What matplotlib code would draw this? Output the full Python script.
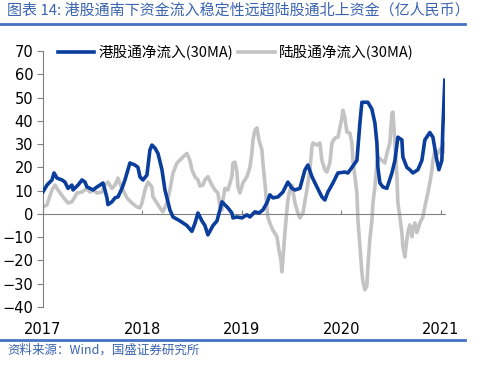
import matplotlib
matplotlib.use("Agg")
import matplotlib.pyplot as plt

plt.rcParams['font.family'] = ['DejaVu Sans', 'Noto Sans CJK SC']

# 港股通净流入(30MA) - decimal years / values
hk_t = [2017.000, 2017.040, 2017.090, 2017.111, 2017.141, 2017.191, 2017.221, 2017.251, 2017.291, 2017.302,
        2017.352, 2017.392, 2017.422, 2017.442, 2017.472, 2017.503, 2017.543, 2017.573, 2017.603, 2017.623,
        2017.643, 2017.653, 2017.693, 2017.724, 2017.754, 2017.794, 2017.824, 2017.874, 2017.925, 2017.955,
        2017.975, 2018.005, 2018.045, 2018.075, 2018.095, 2018.126, 2018.156, 2018.196, 2018.226, 2018.256,
        2018.276, 2018.307, 2018.377, 2018.447, 2018.497, 2018.528, 2018.558, 2018.598, 2018.628, 2018.658,
        2018.709, 2018.749, 2018.779, 2018.799, 2018.829, 2018.859, 2018.899, 2018.910, 2018.950, 2019.000,
        2019.050, 2019.080, 2019.131, 2019.171, 2019.211, 2019.251, 2019.281, 2019.312, 2019.362, 2019.412,
        2019.462, 2019.503, 2019.533, 2019.583, 2019.633, 2019.663, 2019.704, 2019.754, 2019.804, 2019.834,
        2019.864, 2019.915, 2019.965, 2020.035, 2020.065, 2020.106, 2020.156, 2020.186, 2020.206, 2020.266,
        2020.307, 2020.337, 2020.357, 2020.367, 2020.387, 2020.417, 2020.457, 2020.508, 2020.538, 2020.568,
        2020.608, 2020.618, 2020.658, 2020.688, 2020.719, 2020.769, 2020.809, 2020.839, 2020.889, 2020.920,
        2020.960, 2020.980, 2021.010, 2021.020, 2021.040]
hk_v = [9.5, 12.4, 14.6, 17.6, 15.4, 14.6, 13.7, 11.0, 12.4, 10.3,
        12.4, 14.6, 13.7, 11.6, 11.0, 10.3, 11.6, 12.4, 13.3, 10.3,
        6.9, 4.0, 5.2, 6.9, 7.3, 11.0, 14.6, 21.9, 21.0, 20.0,
        15.9, 14.6, 16.7, 27.5, 29.6, 28.3, 26.0, 19.0, 10.3, 5.2,
        1.7, -1.3, -3.0, -5.0, -7.5, -4.0, 0.4, -3.0, -5.0, -9.0,
        -5.0, -3.0, 1.7, 5.2, 3.9, 2.6, 0.4, -1.7, -1.3, -1.7,
        -0.4, -1.3, 0.9, 0.4, 1.7, 4.7, 8.2, 6.9, 7.3, 9.4,
        13.7, 11.0, 10.3, 11.0, 18.9, 21.0, 16.0, 11.6, 7.3, 6.0,
        9.4, 13.3, 17.6, 18.0, 17.6, 20.0, 23.0, 39.0, 48.0, 48.0,
        45.0, 39.0, 30.5, 20.0, 13.3, 11.6, 11.0, 17.6, 23.0, 33.0,
        31.8, 24.5, 20.0, 19.0, 17.6, 19.0, 23.0, 31.8, 35.0, 33.0,
        23.0, 19.0, 23.0, 37.0, 57.5]

# 陆股通净流入(30MA)
sh_t = [2017.000, 2017.040, 2017.090, 2017.121, 2017.151, 2017.201, 2017.251, 2017.291, 2017.342, 2017.392,
        2017.442, 2017.472, 2017.503, 2017.543, 2017.593, 2017.623, 2017.653, 2017.693, 2017.724, 2017.754,
        2017.774, 2017.804, 2017.844, 2017.894, 2017.945, 2017.975, 2017.995, 2018.025, 2018.055, 2018.095,
        2018.106, 2018.146, 2018.176, 2018.206, 2018.246, 2018.276, 2018.307, 2018.347, 2018.397, 2018.447,
        2018.477, 2018.497, 2018.528, 2018.558, 2018.578, 2018.608, 2018.628, 2018.658, 2018.698, 2018.729,
        2018.759, 2018.779, 2018.799, 2018.809, 2018.829, 2018.859, 2018.899, 2018.910, 2018.930, 2018.950,
        2018.960, 2018.980, 2019.010, 2019.050, 2019.080, 2019.100, 2019.111, 2019.131, 2019.151, 2019.171,
        2019.201, 2019.211, 2019.231, 2019.251, 2019.261, 2019.281, 2019.312, 2019.352, 2019.372, 2019.392,
        2019.402, 2019.412, 2019.432, 2019.462, 2019.482, 2019.503, 2019.533, 2019.563, 2019.583, 2019.613,
        2019.653, 2019.683, 2019.704, 2019.714, 2019.754, 2019.784, 2019.804, 2019.834, 2019.854, 2019.884,
        2019.905, 2019.935, 2019.965, 2020.005, 2020.015, 2020.035, 2020.055, 2020.085, 2020.106, 2020.116,
        2020.156, 2020.166, 2020.186, 2020.206, 2020.216, 2020.236, 2020.256, 2020.266, 2020.286, 2020.307,
        2020.317, 2020.337, 2020.357, 2020.367, 2020.407, 2020.437, 2020.457, 2020.487, 2020.508, 2020.518,
        2020.538, 2020.558, 2020.568, 2020.588, 2020.608, 2020.618, 2020.638, 2020.658, 2020.668, 2020.688,
        2020.709, 2020.719, 2020.739, 2020.759, 2020.789, 2020.819, 2020.839, 2020.869, 2020.889, 2020.910,
        2020.920, 2020.940, 2020.970, 2020.990, 2021.010, 2021.020, 2021.040, 2021.050]
sh_v = [3.0, 3.9, 10.3, 12.4, 10.3, 7.3, 4.7, 5.2, 9.0, 9.4,
        11.0, 9.4, 10.3, 9.0, 9.4, 12.4, 13.7, 11.0, 12.4, 15.4,
        13.0, 10.3, 6.9, 4.7, 3.0, 2.6, 4.7, 10.3, 13.7, 11.6,
        7.3, 4.7, 2.6, 0.9, 4.7, 10.3, 17.6, 21.9, 24.0, 26.0,
        23.0, 19.0, 16.0, 14.6, 12.0, 12.4, 14.6, 16.0, 12.4, 10.3,
        9.0, 3.0, 1.7, 6.0, 11.0, 10.3, 16.0, 21.9, 22.3, 18.0,
        11.6, 9.0, 13.3, 16.0, 20.0, 26.0, 31.8, 36.0, 37.0, 31.8,
        27.5, 21.9, 13.3, 3.0, -1.3, -4.0, -7.0, -9.8, -15.5, -19.7,
        -24.9, -19.7, -8.0, 6.0, 10.3, 12.4, 4.7, 0.4, -1.7, 0.4,
        10.3, 18.9, 28.8, 30.5, 29.6, 30.5, 23.0, 18.9, 18.0, 21.9,
        30.5, 32.6, 33.0, 41.2, 44.6, 41.2, 35.2, 34.8, 30.5, 23.0,
        9.0, -2.6, -14.0, -25.0, -29.0, -32.6, -31.0, -22.7, -11.0, -2.6,
        4.7, 11.6, 21.9, 24.5, 23.0, 21.9, 26.0, 30.5, 43.3, 43.8,
        30.5, 16.0, 4.7, -1.3, -8.0, -14.0, -18.5, -11.0, -8.0, -4.7,
        -9.8, -7.0, -3.9, -8.0, -3.9, -1.3, 3.0, 9.0, 13.3, 18.9,
        23.0, 27.5, 26.0, 27.5, 28.8, 26.0, 28.8, 30.5]

years = [2017, 2018, 2019, 2020, 2021]
year_labels = ['2017', '2018', '2019', '2020', '2021']
cjk = ['Noto Sans CJK SC', 'DejaVu Sans']
text_blue = '#3a64b0'

fig = plt.figure(figsize=(4.83, 3.65), dpi=100)
ax = fig.add_axes([0.089, 0.159, 0.832, 0.701])

ax.plot(sh_t, sh_v, color='#c3c3c3', lw=2.6, label='陆股通净流入(30MA)', zorder=2)
ax.plot(hk_t, hk_v, color='#0a3d9c', lw=2.6, label='港股通净流入(30MA)', zorder=3)

ax.set_ylim(-40, 70)
ax.set_xlim(2017, 2021.04)
ax.set_yticks(range(-40, 71, 10))
ax.tick_params(axis='y', length=4, color='#808080', labelsize=10.5, pad=3)

for s in ['top', 'right']:
    ax.spines[s].set_visible(False)
ax.spines['left'].set_color('#808080')
ax.spines['bottom'].set_position(('data', 0))
ax.spines['bottom'].set_color('#808080')
ax.set_xticks(years)
ax.tick_params(axis='x', direction='in', length=3, color='#808080', labelbottom=False)

sec = ax.secondary_xaxis(0)
sec.set_xticks(years)
sec.set_xticklabels(year_labels)
sec.spines['bottom'].set_visible(False)
sec.tick_params(length=0, labelsize=10.5, pad=11)

handles, labels = ax.get_legend_handles_labels()
leg = ax.legend(handles[::-1], labels[::-1], loc='center', bbox_to_anchor=(0.48, 0.995),
                ncol=2, frameon=False, handlelength=2.5, columnspacing=0.35, handletextpad=0.3,
                prop={'family': cjk, 'size': 10.5})

fig.text(0.015, 0.972, '图表 14: 港股通南下资金流入稳定性远超陆股通北上资金（亿人民币）',
         family=cjk, style='italic', fontsize=10.8, color=text_blue, va='center')
fig.add_artist(plt.Line2D([0, 0.963], [0.934, 0.934], color='#4472c4', lw=2))
fig.add_artist(plt.Line2D([0, 0.963], [0.068, 0.068], color='#4472c4', lw=2))
fig.text(0.015, 0.040, '资料来源：Wind，国盛证券研究所', family=cjk, style='italic',
         fontsize=9, color=text_blue, va='center')

fig.savefig('out.png', dpi=100)
